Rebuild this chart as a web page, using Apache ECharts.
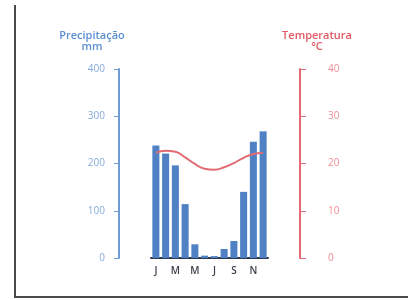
<!DOCTYPE html>
<html>
<head>
<meta charset="utf-8">
<script src="https://cdn.jsdelivr.net/npm/echarts@6/dist/echarts.min.js"></script>
<style>
  html, body { margin: 0; padding: 0; background: #fff; }
  #chart { width: 408px; height: 300px; }
</style>
</head>
<body>
<div id="chart"></div>
<script>
// 月份（只显示奇数月标签）
const months = ['J', 'F', 'M', 'A', 'M', 'J', 'J', 'A', 'S', 'O', 'N', 'D']
// 降水 mm
const precipitation = [238, 221, 196, 114, 29, 5, 4, 19, 36, 140, 246, 268]
// 气温 °C
const temperature = [22.3, 22.7, 22.5, 21.3, 19.9, 18.9, 18.7, 19.2, 20.1, 21.2, 22.0, 22.3]
// 刻度
const precipTicks = { min: 0, max: 400, interval: 100 }
const tempTicks = { min: 0, max: 40, interval: 10 }

const blue = '#4f81c4'
const blueAxis = '#6f9cd6'
const blueText = '#86abdc'
const red = '#e26a72'
const redText = '#ee8d93'

const chart = echarts.init(document.getElementById('chart'))

chart.setOption({
  backgroundColor: '#fff',
  animation: false,
  textStyle: { fontFamily: 'Open Sans' },
  grid: { left: 151, right: 140, top: 69, bottom: 42 },
  xAxis: {
    type: 'category',
    data: months,
    axisLine: { lineStyle: { color: '#2e3a52', width: 2 } },
    axisTick: { show: false },
    axisLabel: { interval: 1, color: '#3a3f4a', fontSize: 10, fontWeight: 600, margin: 8 }
  },
  yAxis: [
    {
      type: 'value',
      position: 'left',
      offset: 32,
      ...precipTicks,
      name: 'Precipitação\nmm',
      nameLocation: 'end',
      nameGap: 17,
      nameTextStyle: { color: '#5b8fd0', fontSize: 11, fontWeight: 600, align: 'center', lineHeight: 11, padding: [0, 54, 0, 0] },
      splitLine: { show: false },
      axisLine: { show: true, lineStyle: { color: blueAxis, width: 2 } },
      axisTick: { show: true, length: 5, lineStyle: { color: blueAxis } },
      axisLabel: { color: blueText, fontSize: 10, margin: 14 }
    },
    {
      type: 'value',
      position: 'right',
      offset: 32,
      ...tempTicks,
      name: 'Temperatura\n°C',
      nameLocation: 'end',
      nameGap: 17,
      nameTextStyle: { color: '#e05a64', fontSize: 11, fontWeight: 600, align: 'center', lineHeight: 11, padding: [0, 0, 0, 34] },
      splitLine: { show: false },
      axisLine: { show: true, lineStyle: { color: red, width: 2 } },
      axisTick: { show: true, length: 6, lineStyle: { color: red } },
      axisLabel: { color: redText, fontSize: 10, margin: 28 }
    }
  ],
  series: [
    {
      name: 'Precipitação',
      type: 'bar',
      data: precipitation,
      barCategoryGap: '28%',
      itemStyle: { color: blue },
      z: 2
    },
    {
      name: 'Temperatura',
      type: 'line',
      yAxisIndex: 1,
      data: temperature,
      smooth: true,
      symbol: 'none',
      lineStyle: { color: red, width: 2 },
      z: 3
    }
  ],
  // 外框
  graphic: [
    { type: 'rect', shape: { x: 14, y: 5, width: 2, height: 293 }, style: { fill: '#4a4a4a' } },
    { type: 'rect', shape: { x: 14, y: 296, width: 394, height: 2 }, style: { fill: '#4a4a4a' } }
  ]
})
</script>
</body>
</html>
